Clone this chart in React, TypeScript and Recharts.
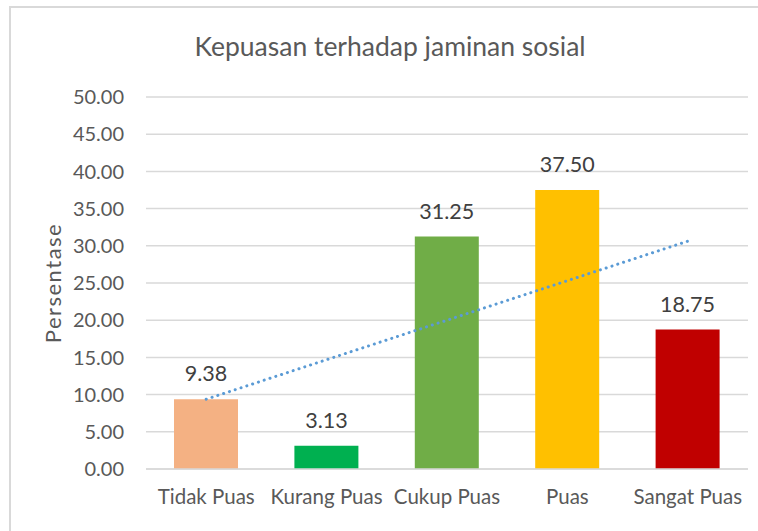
import { ComposedChart, Bar, Line, Cell, XAxis, YAxis, CartesianGrid, LabelList } from 'recharts'

const categories = ['Tidak Puas', 'Kurang Puas', 'Cukup Puas', 'Puas', 'Sangat Puas']
const values = [9.38, 3.13, 31.25, 37.5, 18.75]
const trend = [9.38, 14.69, 20.0, 25.31, 30.62]
const barColors = ['#F4B183', '#00B050', '#70AD47', '#FFC000', '#C00000']
const yTicks = [0, 5, 10, 15, 20, 25, 30, 35, 40, 45, 50]

const FONT = 'Lato, "Open Sans", sans-serif'

const data = categories.map((name, i) => ({ name, value: values[i], trend: trend[i] }))

function YLabel(props: any) {
  const vb = props.viewBox ?? { x: 0, y: 0, width: 0, height: 0 }
  const cx = vb.x + 22
  const cy = vb.y + vb.height / 2
  return (
    <text x={cx} y={cy} transform={`rotate(-90, ${cx}, ${cy})`} textAnchor="middle" dominantBaseline="central"
      fill="#595959" fontSize={22} letterSpacing={1.5} fontFamily={FONT}>
      Persentase
    </text>
  )
}

export default function App() {
  return (
    <div style={{ position: 'absolute', left: 0, top: 0, width: 758, height: 531, background: '#fff', overflow: 'hidden' }}>
      <div style={{ position: 'absolute', left: 9, top: 6, width: 749, height: 525, borderLeft: '2px solid #d9d9d9', borderTop: '2px solid #d9d9d9', boxSizing: 'border-box' }} />
      <div style={{ position: 'absolute', left: 0, top: 30, width: 780, textAlign: 'center', fontFamily: FONT, fontSize: 26.5, color: '#595959', lineHeight: '32px' }}>
        Kepuasan terhadap jaminan sosial
      </div>
      <div style={{ position: 'absolute', left: 0, top: 0 }}>
        <ComposedChart width={758} height={531} data={data} margin={{ top: 97, right: 10, bottom: 0, left: 30 }}>
          <CartesianGrid vertical={false} stroke="#d9d9d9" strokeWidth={1.5} />
          <XAxis dataKey="name" height={62} axisLine={{ stroke: '#d9d9d9', strokeWidth: 1.5 }} tickLine={false} tickSize={0} tickMargin={20}
            tick={{ fill: '#595959', fontSize: 20.5, fontFamily: FONT }} interval={0} />
          <YAxis width={116} domain={[0, 50]} ticks={yTicks} axisLine={false} tickLine={false} tickSize={0} tickMargin={22}
            tickFormatter={(v: number) => v.toFixed(2)} tick={{ fill: '#595959', fontSize: 20, fontFamily: FONT }}
            label={<YLabel />} />
          <Bar dataKey="value" barSize={64} isAnimationActive={false}>
            {data.map((_, i) => <Cell key={i} fill={barColors[i]} />)}
            <LabelList dataKey="value" position="top" offset={18} formatter={(v: any) => Number(v).toFixed(2)}
              style={{ fill: '#404040', fontSize: 21.5, fontFamily: FONT }} />
          </Bar>
          <Line dataKey="trend" type="linear" stroke="#5B9BD5" strokeWidth={3} strokeDasharray="0.1 6" strokeLinecap="round"
            dot={false} activeDot={false} isAnimationActive={false} />
        </ComposedChart>
      </div>
    </div>
  )
}
